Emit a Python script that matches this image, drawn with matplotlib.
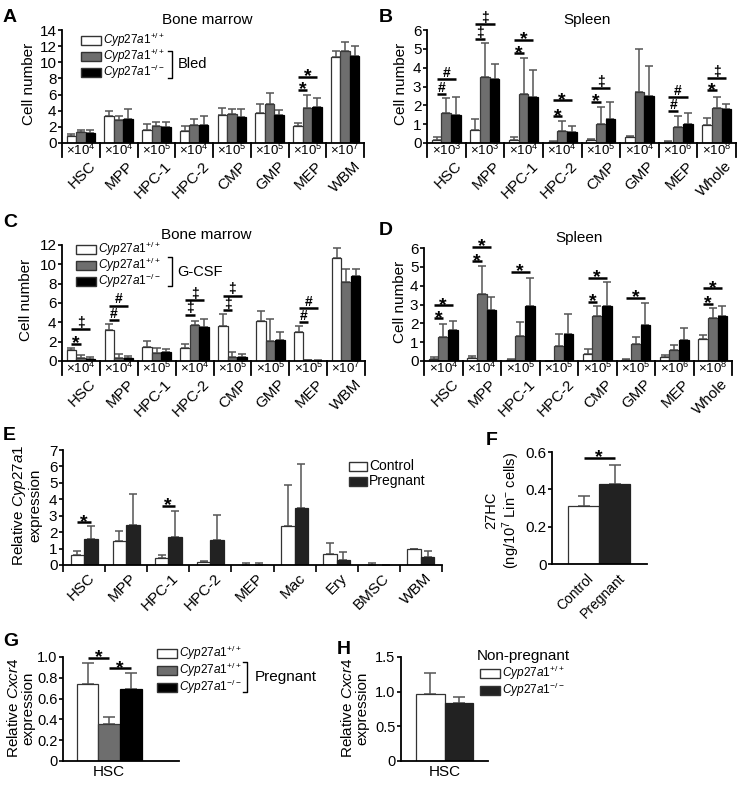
import matplotlib
matplotlib.use('Agg')
import matplotlib.pyplot as plt
from matplotlib.patches import Rectangle
from matplotlib.lines import Line2D
import numpy as np

plt.rcParams['font.family'] = ['Liberation Sans', 'DejaVu Sans']
plt.rcParams['mathtext.fontset'] = 'custom'
plt.rcParams['mathtext.rm'] = 'Liberation Sans'
plt.rcParams['mathtext.it'] = 'Liberation Sans:italic'
plt.rcParams['mathtext.bf'] = 'Liberation Sans:bold'

W, H = 748, 785

# ---- data ----
cells_bm = ['HSC', 'MPP', 'HPC-1', 'HPC-2', 'CMP', 'GMP', 'MEP', 'WBM']
cells_sp = ['HSC', 'MPP', 'HPC-1', 'HPC-2', 'CMP', 'GMP', 'MEP', 'Whole']

# A: bone marrow, bled
a_ctrl = [0.9, 3.4, 1.6, 1.45, 3.45, 3.75, 2.15, 10.6]
a_ctrl_err = [0.2, 0.6, 0.8, 0.65, 0.85, 1.1, 0.35, 0.8]
a_wt = [1.35, 2.85, 2.1, 2.25, 3.55, 4.8, 4.3, 11.35]
a_wt_err = [0.3, 0.5, 0.45, 0.75, 0.65, 1.4, 1.65, 1.2]
a_ko = [1.2, 3.0, 1.95, 2.25, 3.25, 3.5, 4.45, 10.75]
a_ko_err = [0.35, 1.2, 0.7, 1.05, 0.95, 0.6, 1.15, 1.3]
a_mult = [4, 4, 5, 4, 5, 5, 5, 7]
a_sig = [(6, 0, 1, 6.55, '*'), (6, 0, 2, 8.2, '*')]

# B: spleen, bled
b_ctrl = [0.15, 0.68, 0.18, 0.07, 0.15, 0.3, 0.05, 0.95]
b_ctrl_err = [0.15, 0.57, 0.12, 0.03, 0.05, 0.05, 0.05, 0.4]
b_wt = [1.6, 3.5, 2.62, 0.63, 1.0, 2.7, 0.85, 1.85]
b_wt_err = [0.8, 1.8, 1.88, 0.52, 0.9, 2.3, 0.57, 0.57]
b_ko = [1.5, 3.42, 2.45, 0.6, 1.28, 2.5, 1.02, 1.8]
b_ko_err = [0.95, 0.78, 1.45, 0.3, 0.9, 1.6, 0.58, 0.25]
b_mult = [3, 3, 4, 4, 5, 4, 6, 8]
b_sig = [(0, 0, 1, 2.61, '#'), (0, 0, 2, 3.4, '#'), (1, 0, 1, 5.52, '‡'), (1, 0, 2, 6.3, '‡'),
         (2, 0, 1, 4.76, '*'), (2, 0, 2, 5.47, '*'), (3, 0, 1, 1.41, '*'), (3, 0, 2, 2.26, '*'),
         (4, 0, 1, 2.2, '*'), (4, 0, 2, 2.9, '‡'), (6, 0, 1, 1.68, '#'), (6, 0, 2, 2.43, '#'),
         (7, 0, 1, 2.79, '*'), (7, 0, 2, 3.44, '‡')]

# C: bone marrow, G-CSF
c_ctrl = [1.15, 3.2, 1.45, 1.35, 3.6, 4.1, 2.95, 10.7]
c_ctrl_err = [0.2, 0.65, 0.6, 0.45, 1.25, 1.1, 0.65, 1.0]
c_wt = [0.3, 0.35, 0.8, 3.75, 0.45, 2.1, 0.07, 8.2]
c_wt_err = [0.35, 0.35, 0.55, 0.35, 0.5, 2.2, 0.08, 1.3]
c_ko = [0.18, 0.28, 0.95, 3.5, 0.38, 2.2, 0.04, 8.75]
c_ko_err = [0.27, 0.22, 0.25, 0.85, 0.34, 0.8, 0.06, 0.8]
c_mult = [4, 4, 5, 4, 5, 5, 5, 7]
c_sig = [(0, 0, 1, 1.76, '*'), (0, 0, 2, 3.28, '‡'), (1, 0, 1, 4.24, '#'), (1, 0, 2, 5.72, '#'),
         (3, 0, 1, 4.8, '‡'), (3, 0, 2, 6.3, '‡'), (4, 0, 1, 5.28, '‡'), (4, 0, 2, 6.76, '‡'),
         (6, 0, 1, 4.0, '#'), (6, 0, 2, 5.48, '#')]

# D: spleen, G-CSF
d_ctrl = [0.1, 0.15, 0.05, 0.0, 0.38, 0.05, 0.2, 1.18]
d_ctrl_err = [0.1, 0.1, 0.05, 0.0, 0.27, 0.03, 0.1, 0.2]
d_wt = [1.3, 3.55, 1.32, 0.8, 2.38, 0.92, 0.6, 2.3]
d_wt_err = [0.65, 1.5, 0.73, 0.65, 0.54, 0.36, 0.25, 0.52]
d_ko = [1.65, 2.7, 2.9, 1.45, 2.92, 1.93, 1.12, 2.4]
d_ko_err = [0.45, 0.68, 1.52, 1.03, 1.26, 1.17, 0.63, 0.52]
d_mult = [4, 4, 5, 5, 5, 5, 6, 8]
d_sig = [(0, 0, 1, 2.26, '*'), (0, 0, 2, 2.96, '*'), (1, 0, 1, 5.3, '*'), (1, 0, 2, 6.05, '*'),
         (2, 0, 2, 4.73, '*'), (4, 0, 1, 3.14, '*'), (4, 0, 2, 4.43, '*'), (5, 0, 2, 3.35, '*'),
         (7, 0, 1, 3.05, '*'), (7, 0, 2, 3.85, '*')]

# E: Cyp27a1 expression
e_cells = ['HSC', 'MPP', 'HPC-1', 'HPC-2', 'MEP', 'Mac', 'Ery', 'BMSC', 'WBM']
e_ctrl = [0.6, 1.46, 0.45, 0.18, 0.03, 2.39, 0.65, 0.02, 1.0]
e_ctrl_err = [0.25, 0.63, 0.15, 0.06, 0.12, 2.47, 0.67, 0.08, 0.0]
e_preg = [1.58, 2.43, 1.68, 1.52, 0.03, 3.45, 0.3, 0.0, 0.47]
e_preg_err = [0.79, 1.87, 1.6, 1.52, 0.12, 2.68, 0.51, 0.0, 0.4]
e_sig = [(0, 0, 1, 2.6, '*'), (2, 0, 1, 3.59, '*')]

# F: 27HC
f_groups = ['Control', 'Pregnant']
f_vals = [0.31, 0.43]
f_err = [0.055, 0.1]
f_sig = [(0, 1, 0.57, '*')]

# G: Cxcr4, pregnant
g_vals = [0.745, 0.355, 0.695]
g_err = [0.2, 0.065, 0.155]
g_sig = [(0, 1, 0.99, '*'), (1, 2, 0.89, '*')]

# H: Cxcr4, non-pregnant
h_vals = [0.965, 0.83]
h_err = [0.305, 0.09]

WHITE, GREY, BLACK, DARK = 'white', '#6e6e6e', 'black', '#222222'

fig = plt.figure(figsize=(W / 100, H / 100), dpi=100)


def make_ax(l, t, r, b, fs=11):
    ax = fig.add_axes([l / W, 1 - b / H, (r - l) / W, (b - t) / H])
    for s in ('top', 'right'):
        ax.spines[s].set_visible(False)
    for s in ('left', 'bottom'):
        ax.spines[s].set_linewidth(1.3)
    ax.tick_params(axis='y', direction='out', length=3, width=1.2, labelsize=fs, pad=1)
    ax.tick_params(axis='x', length=0, labelbottom=False)
    return ax


def draw_bars(ax, x, series, errs, colors, edges, width):
    n = len(series)
    for i, (vals, err, fc, ec) in enumerate(zip(series, errs, colors, edges)):
        xs = np.asarray(x) + (i - (n - 1) / 2) * width
        ax.errorbar(xs, vals, yerr=[np.zeros(len(vals)), err], fmt='none', ecolor='#555555',
                    elinewidth=1.1, capsize=2.6, capthick=1.1, zorder=1)
        ax.bar(xs, vals, width, color=fc, edgecolor=ec, linewidth=0.9, zorder=2)


def sig_mark(ax, x0, x1, y, sym):
    ax.plot([x0, x1], [y, y], color='black', lw=1.8, clip_on=False, solid_capstyle='butt')
    if sym == '*':
        ax.annotate(sym, ((x0 + x1) / 2, y), xytext=(0, -3.2), textcoords='offset points',
                    ha='center', va='baseline', fontsize=14, fontweight='bold',
                    annotation_clip=False)
    else:
        ax.annotate(sym, ((x0 + x1) / 2, y), xytext=(0, 1.6), textcoords='offset points',
                    ha='center', va='baseline', fontsize=10, fontweight='bold',
                    annotation_clip=False)


def draw_sig(ax, sigs, n, width):
    for g, i, j, y, sym in sigs:
        sig_mark(ax, g + (i - (n - 1) / 2) * width, g + (j - (n - 1) / 2) * width, y, sym)


def mult_row(ax, h_px, group_px, labels, mults, depth=14):
    tr = ax.get_xaxis_transform()
    d = depth / h_px
    for k in range(len(labels) + 1):
        ax.plot([k - 0.5, k - 0.5], [0, -d], transform=tr, color='black', lw=1.3,
                clip_on=False)
    for k, (lab, m) in enumerate(zip(labels, mults)):
        ax.text(k, -d / 2, r'×10$^{%d}$' % m, transform=tr, ha='center', va='center',
                fontsize=9.5)
        ax.text(k + 8 / group_px, -(depth + 2) / h_px, lab, transform=tr, rotation=45,
                ha='right', va='top', rotation_mode='anchor', fontsize=11)


def ptxt(x, y, s, **kw):
    return fig.text(x / W, 1 - y / H, s, **kw)


def prect(x0, yc, w, h, fc):
    fig.add_artist(Rectangle((x0 / W, 1 - (yc + h / 2) / H), w / W, h / H,
                             transform=fig.transFigure, facecolor=fc, edgecolor='#333333',
                             lw=1.0))


def pbracket(x, y0, y1):
    fig.add_artist(Line2D([(x - 4) / W, x / W, x / W, (x - 4) / W],
                          [1 - y0 / H, 1 - y0 / H, 1 - y1 / H, 1 - y1 / H],
                          transform=fig.transFigure, color='black', lw=1.0))


wt_lab = r'$\mathit{Cyp27a1}^{+/+}$'
ko_lab = r'$\mathit{Cyp27a1}^{-/-}$'


def three_legend(x0, ys, fs=8.5):
    for yc, fc, lab in zip(ys, [WHITE, GREY, BLACK], [wt_lab, wt_lab, ko_lab]):
        prect(x0, yc, 20, 9, fc)
        ptxt(x0 + 22, yc, lab, ha='left', va='center', fontsize=fs)


def grouped_panel(l, t, r, b, ymax, ystep, series, errs, mults, labels, sigs, title, tx,
                  letter, lpos, ylx):
    ax = make_ax(l, t, r, b)
    x = np.arange(len(labels))
    draw_bars(ax, x, series, errs, [WHITE, GREY, BLACK], ['#333333', '#3a3a3a', 'black'], 0.25)
    draw_sig(ax, sigs, 3, 0.25)
    ax.set_xlim(-0.5, len(labels) - 0.5)
    ax.set_ylim(0, ymax)
    ax.set_yticks(np.arange(0, ymax + 0.01, ystep))
    mult_row(ax, b - t, (r - l) / len(labels), labels, mults)
    ptxt(tx, t - 10, title, ha='center', va='center', fontsize=11)
    ptxt(lpos[0], lpos[1], letter, ha='left', va='top', fontsize=14, fontweight='bold')
    ptxt(ylx, (t + b) / 2 - 3, 'Cell number', rotation=90, ha='center', va='center', fontsize=11)
    return ax


# ---- A ----
grouped_panel(62, 30, 364, 143, 14, 2, [a_ctrl, a_wt, a_ko], [a_ctrl_err, a_wt_err, a_ko_err],
              a_mult, cells_bm, a_sig, 'Bone marrow', 207, 'A', (3, 9), 29)
three_legend(81, [40, 56, 72])
pbracket(172, 51, 78)
ptxt(178, 64, 'Bled', ha='left', va='center', fontsize=10.5)

# ---- B ----
grouped_panel(427, 30, 736, 143, 6, 1, [b_ctrl, b_wt, b_ko], [b_ctrl_err, b_wt_err, b_ko_err],
              b_mult, cells_sp, b_sig, 'Spleen', 587, 'B', (379, 9), 401)

# ---- C ----
grouped_panel(62, 245, 365, 361, 12, 2, [c_ctrl, c_wt, c_ko], [c_ctrl_err, c_wt_err, c_ko_err],
              c_mult, cells_bm, c_sig, 'Bone marrow', 206, 'C', (3, 214), 26)
three_legend(76, [249, 265, 281], fs=8.6)
pbracket(172, 257, 286)
ptxt(177, 272, 'G-CSF', ha='left', va='center', fontsize=10.5)

# ---- D ----
grouped_panel(424, 248, 732, 361, 6, 1, [d_ctrl, d_wt, d_ko], [d_ctrl_err, d_wt_err, d_ko_err],
              d_mult, cells_sp, d_sig, 'Spleen', 579, 'D', (379, 222), 400)

# ---- E ----
axE = make_ax(63, 450, 442, 565)
xe = np.arange(len(e_cells))
draw_bars(axE, xe, [e_ctrl, e_preg], [e_ctrl_err, e_preg_err], [WHITE, DARK],
          ['#333333', DARK], 0.32)
draw_sig(axE, e_sig, 2, 0.32)
axE.set_xlim(-0.5, len(e_cells) - 0.5)
axE.set_ylim(0, 7)
axE.set_yticks(range(0, 8))
axE.set_xticks(np.arange(-0.5, len(e_cells)), minor=True)
axE.tick_params(axis='x', which='minor', direction='out', length=5, width=1.2)
for k, lab in enumerate(e_cells):
    axE.text(k + 0.08, -(6 / 115), lab, transform=axE.get_xaxis_transform(), rotation=45,
             ha='right', va='top', rotation_mode='anchor', fontsize=11)
prect(349, 466, 18, 9, WHITE)
prect(349, 481, 18, 9, DARK)
ptxt(369, 466, 'Control', ha='left', va='center', fontsize=10)
ptxt(369, 481, 'Pregnant', ha='left', va='center', fontsize=10)
ptxt(3, 427, 'E', ha='left', va='top', fontsize=14, fontweight='bold')
ptxt(26, 505, 'Relative $\\mathit{Cyp27a1}$\nexpression', rotation=90, ha='center',
     va='center', fontsize=11, linespacing=1.05, multialignment='center')

# ---- F ----
axF = make_ax(552, 452, 647, 564)
xf = np.arange(len(f_groups))
axF.errorbar(xf, f_vals, yerr=[np.zeros(2), f_err], fmt='none', ecolor='#555555',
             elinewidth=1.1, capsize=4.5, capthick=1.1, zorder=1)
axF.bar(xf, f_vals, 1.0, color=[WHITE, DARK], edgecolor=['#333333', DARK], linewidth=0.9,
        zorder=2)
for i, j, y, sym in f_sig:
    sig_mark(axF, i, j, y, sym)
axF.set_xlim(-1.02, 2.05)
axF.set_ylim(0, 0.6)
axF.set_yticks([0, 0.2, 0.4, 0.6])
axF.set_yticklabels(['0', '0.2', '0.4', '0.6'])
for k, lab in enumerate(f_groups):
    axF.text(k + 0.1, -(7 / 112), lab, transform=axF.get_xaxis_transform(), rotation=45,
             ha='right', va='top', rotation_mode='anchor', fontsize=10)
ptxt(486, 432, 'F', ha='left', va='top', fontsize=14, fontweight='bold')
ptxt(503, 510, '27HC\n(ng/10$^7$ Lin$^{-}$ cells)', rotation=90, ha='center', va='center',
     fontsize=10.5, linespacing=1.1, multialignment='center')

# ---- G ----
axG = make_ax(63, 657, 179, 761, fs=10.5)
xg = np.arange(len(g_vals))
axG.errorbar(xg, g_vals, yerr=[np.zeros(3), g_err], fmt='none', ecolor='#555555',
             elinewidth=1.1, capsize=4.5, capthick=1.1, zorder=1)
axG.bar(xg, g_vals, 1.0, color=[WHITE, GREY, BLACK], edgecolor=['#333333', '#3a3a3a', 'black'],
        linewidth=0.9, zorder=2)
for i, j, y, sym in g_sig:
    sig_mark(axG, i, j, y, sym)
axG.set_xlim(-1.14, 4.23)
axG.set_ylim(0, 1.0)
axG.set_yticks([0, 0.2, 0.4, 0.6, 0.8, 1.0])
axG.set_yticklabels(['0', '0.2', '0.4', '0.6', '0.8', '1.0'])
axG.set_xticks([1])
axG.set_xticklabels(['HSC'])
axG.tick_params(axis='x', labelbottom=True, labelsize=11, pad=3)
three_legend(157, [653, 670, 687], fs=8.6)
pbracket(247, 662, 692)
ptxt(255, 677, 'Pregnant', ha='left', va='center', fontsize=11)
ptxt(3, 633, 'G', ha='left', va='top', fontsize=14, fontweight='bold')
ptxt(21, 708, 'Relative $\\mathit{Cxcr4}$\nexpression', rotation=90, ha='center',
     va='center', fontsize=11, linespacing=1.05, multialignment='center')

# ---- H ----
axH = make_ax(401, 657, 488, 761, fs=10.5)
xh = np.arange(len(h_vals))
axH.errorbar(xh, h_vals, yerr=[np.zeros(2), h_err], fmt='none', ecolor='#555555',
             elinewidth=1.1, capsize=4.5, capthick=1.1, zorder=1)
axH.bar(xh, h_vals, 1.0, color=[WHITE, DARK], edgecolor=['#333333', DARK], linewidth=0.9,
        zorder=2)
axH.set_xlim(-1.04, 2.03)
axH.set_ylim(0, 1.5)
axH.set_yticks([0, 0.5, 1.0, 1.5])
axH.set_yticklabels(['0', '0.5', '1.0', '1.5'])
axH.set_xticks([0.5])
axH.set_xticklabels(['HSC'])
axH.tick_params(axis='x', labelbottom=True, labelsize=11, pad=3)
ptxt(477, 656, 'Non-pregnant', ha='left', va='center', fontsize=11)
prect(480, 673, 20, 9, WHITE)
prect(480, 690, 20, 9, DARK)
ptxt(502, 673, wt_lab, ha='left', va='center', fontsize=8.6)
ptxt(502, 690, ko_lab, ha='left', va='center', fontsize=8.6)
ptxt(337, 641, 'H', ha='left', va='top', fontsize=14, fontweight='bold')
ptxt(355, 708, 'Relative $\\mathit{Cxcr4}$\nexpression', rotation=90, ha='center',
     va='center', fontsize=11, linespacing=1.05, multialignment='center')

fig.savefig('out.png', dpi=100)
